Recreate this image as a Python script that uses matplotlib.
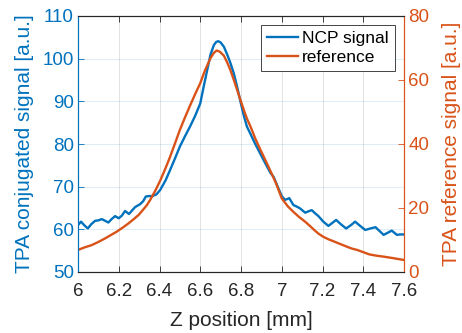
import matplotlib
matplotlib.use("Agg")
import matplotlib.pyplot as plt
import numpy as np

plt.rcParams['font.family'] = ['Liberation Sans', 'DejaVu Sans']

BLUE = '#0072BD'
ORANGE = '#D95319'
DARK = '#262626'

# NCP (conjugated) signal, left axis
ncp_z = [6.000, 6.015, 6.030, 6.048, 6.065, 6.084, 6.100, 6.117, 6.133, 6.149,
         6.165, 6.182, 6.200, 6.215, 6.231, 6.250, 6.265, 6.280, 6.305, 6.320,
         6.333, 6.350, 6.366, 6.385, 6.403, 6.430, 6.452, 6.475, 6.500, 6.525,
         6.550, 6.575, 6.600, 6.617, 6.634, 6.650, 6.667, 6.678, 6.688, 6.700,
         6.716, 6.732, 6.748, 6.765, 6.781, 6.797, 6.814, 6.829, 6.847, 6.870,
         6.894, 6.920, 6.945, 6.960, 6.980, 7.000, 7.016, 7.037, 7.057, 7.075,
         7.090, 7.115, 7.130, 7.147, 7.165, 7.180, 7.204, 7.229, 7.248, 7.267,
         7.290, 7.316, 7.340, 7.360, 7.385, 7.410, 7.435, 7.460, 7.480, 7.500,
         7.520, 7.540, 7.565, 7.580, 7.600]
ncp_val = [61.0, 61.8, 61.0, 60.2, 61.2, 62.0, 62.1, 62.4, 62.0, 61.6,
           62.4, 63.1, 62.6, 63.2, 64.3, 63.6, 64.4, 65.2, 65.9, 66.6,
           67.7, 67.8, 67.8, 68.2, 69.2, 71.5, 73.9, 76.5, 79.4, 81.8,
           84.1, 86.6, 89.5, 93.5, 97.3, 100.9, 103.2, 103.9, 104.1, 103.8,
           102.8, 101.0, 99.0, 96.5, 93.4, 90.0, 86.6, 84.1, 82.3, 80.0,
           77.8, 75.4, 73.2, 72.3, 70.0, 67.8, 66.9, 67.3, 65.7, 65.3,
           64.9, 63.9, 64.2, 64.5, 63.7, 63.1, 61.8, 60.8, 61.5, 62.2,
           61.2, 60.2, 61.0, 61.8, 60.8, 59.85, 60.2, 60.5, 59.6, 58.7,
           59.2, 59.7, 58.7, 58.8, 58.8]

# Reference signal, right axis
ref_z = [6.000, 6.033, 6.067, 6.100, 6.133, 6.160, 6.190, 6.220, 6.248, 6.275,
         6.297, 6.320, 6.338, 6.354, 6.380, 6.403, 6.430, 6.452, 6.475, 6.500,
         6.525, 6.550, 6.575, 6.600, 6.620, 6.634, 6.650, 6.667, 6.680, 6.695,
         6.716, 6.732, 6.748, 6.765, 6.781, 6.797, 6.814, 6.830, 6.847, 6.870,
         6.896, 6.920, 6.945, 6.970, 7.000, 7.030, 7.057, 7.085, 7.115, 7.140,
         7.160, 7.180, 7.204, 7.230, 7.250, 7.285, 7.320, 7.345, 7.370, 7.400,
         7.430, 7.465, 7.500, 7.550, 7.600]
ref_val = [6.9, 7.7, 8.4, 9.4, 10.5, 11.5, 12.6, 13.9, 15.2, 16.6,
           17.8, 19.5, 20.9, 22.5, 25.5, 28.5, 32.5, 36.0, 40.0, 44.4,
           48.3, 52.0, 55.6, 59.0, 62.5, 64.5, 66.8, 68.5, 69.2, 68.9,
           67.6, 65.5, 63.1, 60.0, 56.9, 53.8, 50.6, 47.8, 45.4, 41.7,
           38.1, 34.9, 31.5, 28.0, 23.0, 20.5, 18.8, 17.2, 15.7, 14.3,
           13.1, 12.0, 11.0, 10.2, 9.7, 8.8, 7.9, 7.3, 6.9, 6.2,
           5.5, 5.1, 4.8, 4.3, 3.75]

x_ticks = [6, 6.2, 6.4, 6.6, 6.8, 7, 7.2, 7.4, 7.6]
x_ticklabels = ['6', '6.2', '6.4', '6.6', '6.8', '7', '7.2', '7.4', '7.6']
left_ticks = [50, 60, 70, 80, 90, 100, 110]
right_ticks = [0, 20, 40, 60, 80]

TICK_FS = 13.5
LABEL_FS = 15

fig = plt.figure(figsize=(4.62, 3.33), dpi=100)
ax = fig.add_axes([78 / 462, 61 / 333, 326 / 462, 256 / 333])
ax2 = ax.twinx()

l1, = ax.plot(ncp_z, ncp_val, color=BLUE, lw=1.7, label='NCP signal')
l2, = ax2.plot(ref_z, ref_val, color=ORANGE, lw=1.7, label='reference')

ax.set_xlim(6, 7.6)
ax.set_ylim(50, 110)
ax2.set_ylim(0, 80)
ax.set_xticks(x_ticks)
ax.set_xticklabels(x_ticklabels)
ax.set_yticks(left_ticks)
ax2.set_yticks(right_ticks)

# grid: vertical lines gray, horizontal lines tinted with the left-axis colour
ax.xaxis.grid(True, color=DARK, alpha=0.15, lw=0.6)
ax.yaxis.grid(True, color=BLUE, alpha=0.15, lw=0.6)
ax.set_axisbelow(True)

for a in (ax, ax2):
    a.spines['top'].set_color(DARK)
    a.spines['bottom'].set_color(DARK)
    a.spines['left'].set_color(BLUE)
    a.spines['right'].set_color(ORANGE)
    for s in a.spines.values():
        s.set_linewidth(0.8)

ax.tick_params(axis='x', direction='in', length=4, width=0.6, color=DARK,
               labelcolor=DARK, labelsize=TICK_FS, top=True, pad=8)
ax.tick_params(axis='y', direction='in', length=4, width=0.6, color=BLUE,
               labelcolor=BLUE, labelsize=TICK_FS, pad=3)
ax2.tick_params(axis='y', direction='in', length=4, width=0.6, color=ORANGE,
                labelcolor=ORANGE, labelsize=TICK_FS, pad=3)

ax.set_xlabel('Z position [mm]', fontsize=LABEL_FS, color=DARK)
ax.set_ylabel('TPA conjugated signal [a.u.]', fontsize=LABEL_FS, color=BLUE)
ax2.set_ylabel('TPA reference signal [a.u.]', fontsize=LABEL_FS, color=ORANGE)
ax.xaxis.label.set_va('center')
ax.yaxis.label.set_va('center')
ax2.yaxis.label.set_va('center')
ax.xaxis.set_label_coords(0.5, (272 - 321) / 256)
ax.yaxis.set_label_coords((24 - 78) / 326, 0.5)
ax2.yaxis.set_label_coords((452 - 78) / 326, 0.5)

leg = ax2.legend(handles=[l1, l2], loc='upper right',
                 bbox_to_anchor=(0.972, 0.965), borderaxespad=0,
                 fontsize=12.5, fancybox=False, framealpha=1,
                 edgecolor=DARK, handlelength=1.75, handletextpad=0.25,
                 labelspacing=0.2, borderpad=0.35)
leg.get_frame().set_linewidth(0.6)
for t in leg.get_texts():
    t.set_color('black')

fig.savefig('out.png', dpi=100)
